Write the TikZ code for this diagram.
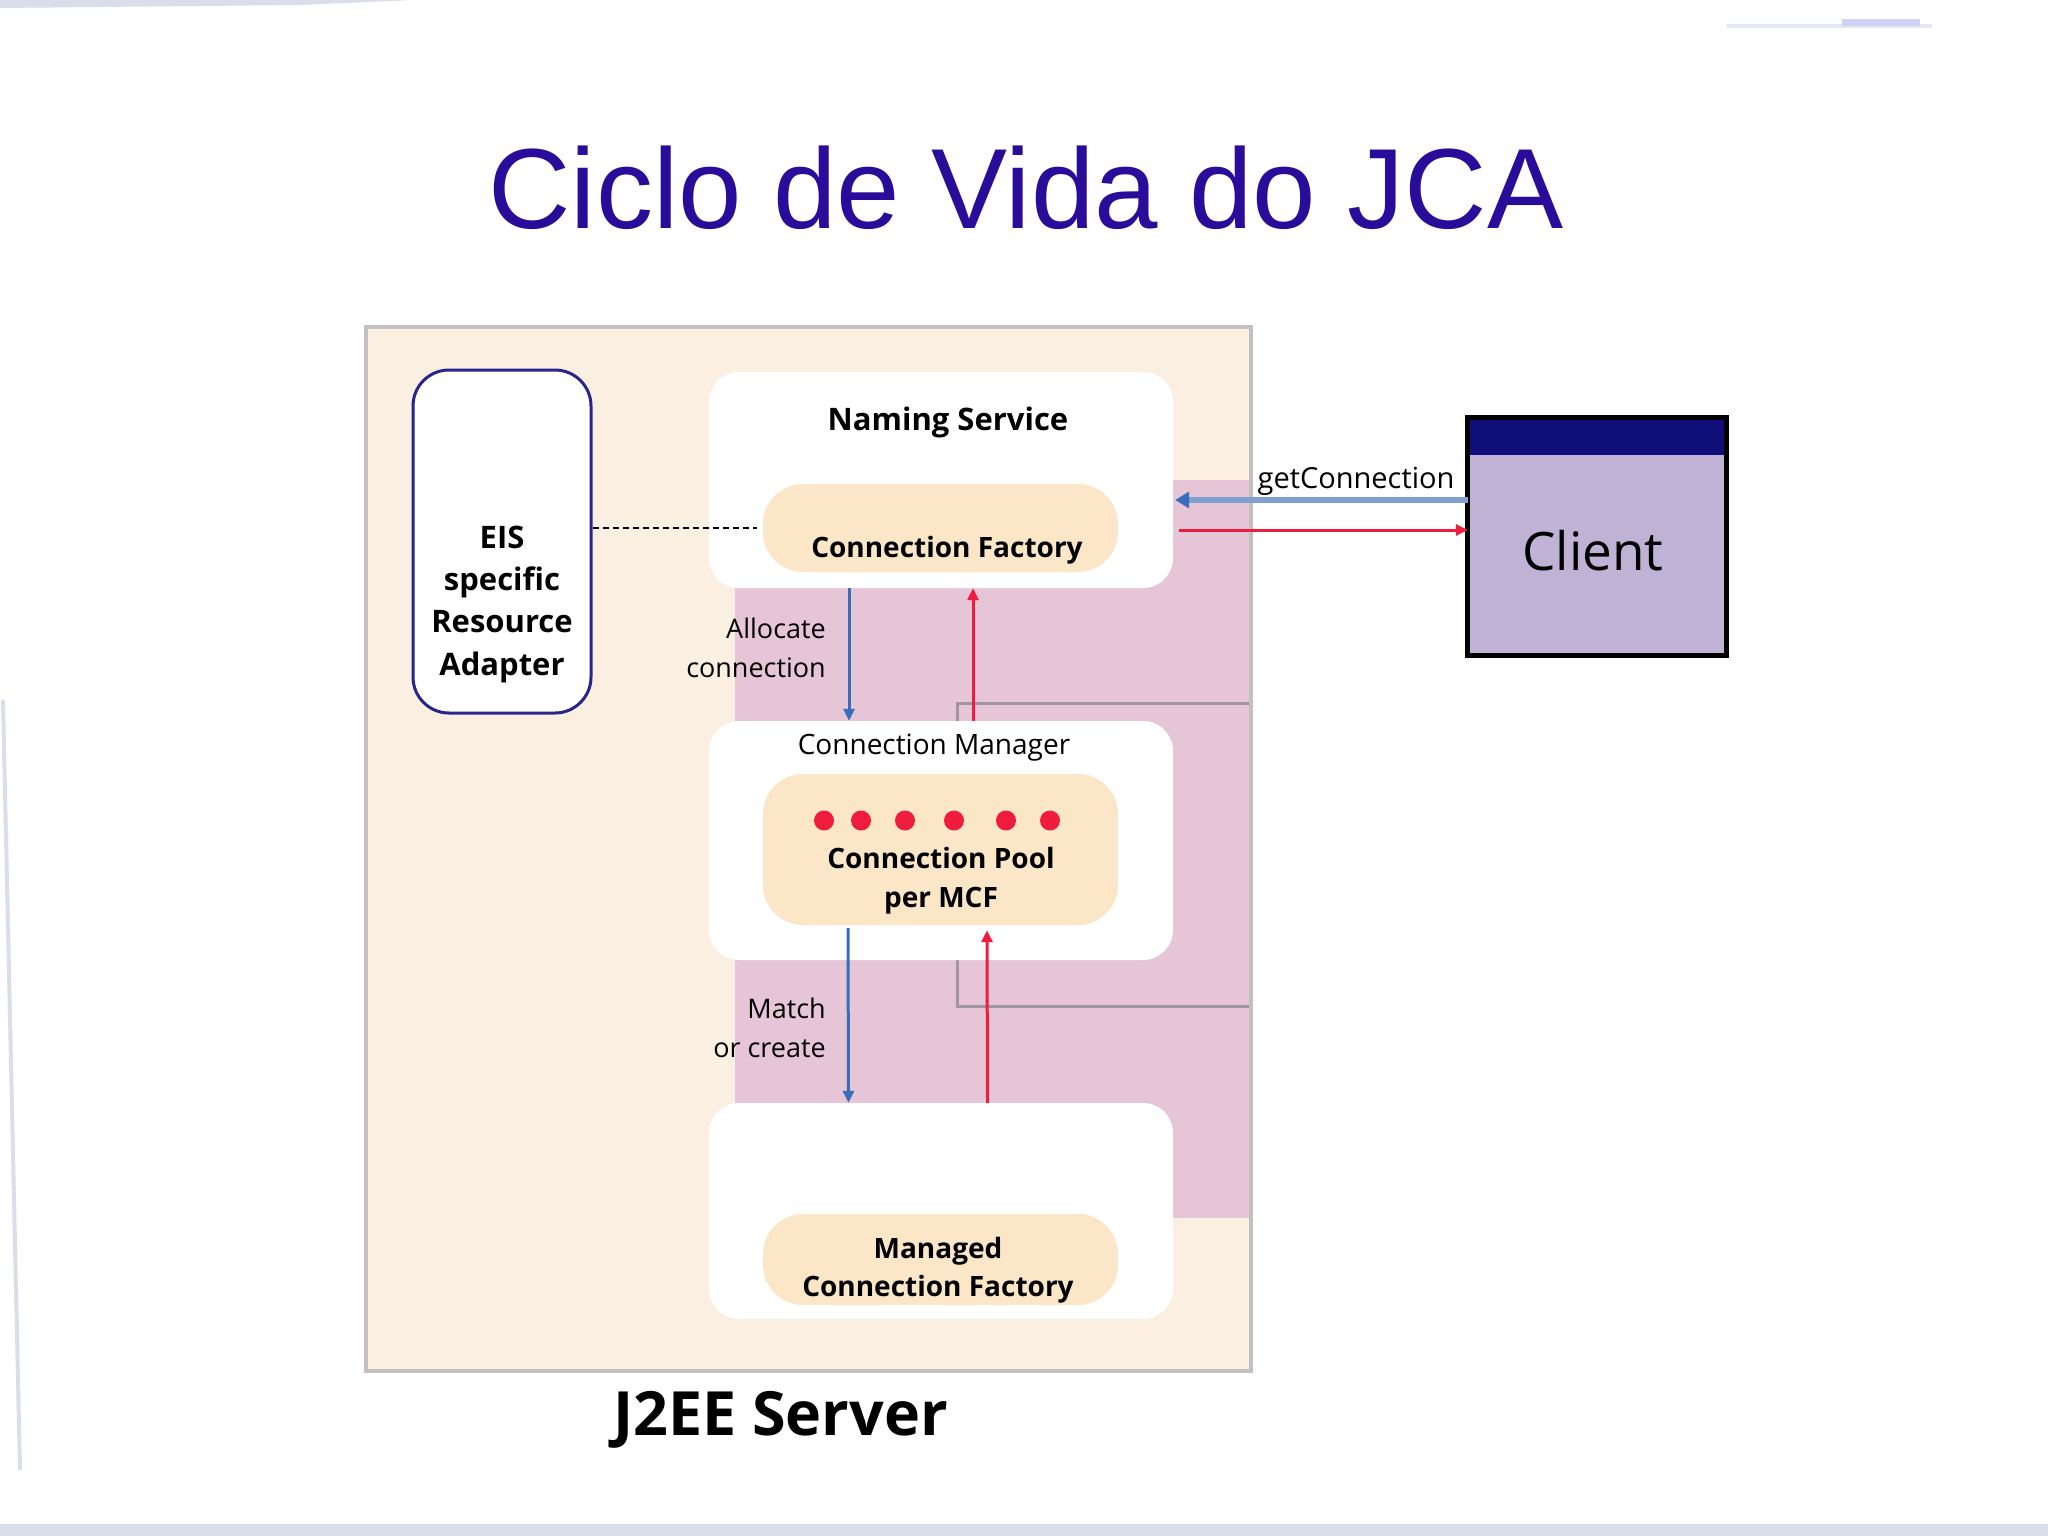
\documentclass[tikz,border=0pt]{standalone}
\usepackage{fontspec}
\setmainfont{Liberation Sans}
\newfontfamily\dfont{Open Sans}
\usetikzlibrary{arrows.meta}
\definecolor{titleblue}{RGB}{42,12,154}
\definecolor{peachbg}{RGB}{251,239,226}
\definecolor{pinkbg}{RGB}{230,198,214}
\definecolor{subpeach}{RGB}{251,231,200}
\definecolor{eisnavy}{RGB}{40,38,140}
\definecolor{arrblue}{RGB}{58,108,188}
\definecolor{lightblue}{RGB}{128,160,208}
\definecolor{arrred}{RGB}{240,28,62}
\definecolor{borgray}{RGB}{196,192,194}
\definecolor{rectgray}{RGB}{160,150,160}
\definecolor{lavender}{RGB}{191,178,212}
\definecolor{barnavy}{RGB}{16,14,120}
\definecolor{smudge}{RGB}{218,222,234}
\begin{document}
\begin{tikzpicture}[x=1pt,y=-1pt,
  whitebox/.style={fill=white,draw=none,rounded corners=30pt,inner sep=0pt},
  subbox/.style={fill=subpeach,draw=none,rounded corners=40pt,inner sep=0pt},
  btxt/.style={inner sep=0pt,anchor=base,font=\dfont\bfseries\fontsize{28}{34}\selectfont},
  ntxt/.style={inner sep=0pt,anchor=base,font=\dfont\fontsize{27}{39}\selectfont},
  bluearr/.style={draw=arrblue,line width=3pt,-{Triangle[length=12pt,width=11pt]}},
  redarr/.style={draw=arrred,line width=3pt,-{Triangle[length=12pt,width=11pt]}}]
\useasboundingbox (0,0) rectangle (2048,1536);
\fill[white] (0,0) rectangle (2048,1536);
% slide edge smudges
\fill[smudge] (0,0) -- (413,0) -- (300,5) -- (0,8) -- cycle;
\fill[smudge!70] (1727,24) -- (1932,24) -- (1932,28) -- (1727,28) -- cycle;
\fill[smudge!80!blue!60] (1842,19) rectangle (1920,26);
\fill[smudge] (0,1524) rectangle (2048,1536);
\draw[smudge,line width=4pt] (3,700) -- (20,1470);
% title
\node[inner sep=0pt,anchor=base,text=titleblue,font=\fontsize{114}{130}\selectfont] (title) at (1026,228) {Ciclo de Vida do JCA};
% server container
\node[fill=peachbg,draw=none,inner sep=0pt,minimum width=885pt,minimum height=1044pt] (server) at (808.5,849) {};
\fill[pinkbg] (735,480) rectangle (1251,1218);
\draw[rectgray,line width=3pt] (957,703) rectangle (1251,1006);
\draw[borgray,line width=4pt] (server.south west) rectangle (server.north east);
% EIS adapter
\node[fill=white,draw=eisnavy,line width=3pt,rounded corners=36pt,minimum width=178pt,minimum height=343pt] (eis) at (502,541.5) {};
\node[btxt,align=center,font=\dfont\bfseries\fontsize{31}{42.3}\selectfont] (eistxt) at (502,675) {EIS\\specific\\Resource\\Adapter};
% naming service
\node[whitebox,minimum width=464pt,minimum height=216pt] (naming) at (941,480) {};
\node[btxt,font=\dfont\bfseries\fontsize{31}{36}\selectfont] (namingtxt) at (948,430) {Naming Service};
\node[subbox,minimum width=355pt,minimum height=88pt] (cf) at (940.5,528) {};
\node[btxt] (cftxt) at (947,557) {Connection Factory};
% connection manager
\node[whitebox,minimum width=464pt,minimum height=239pt] (cm) at (941,840.5) {};
\node[ntxt,font=\dfont\fontsize{28}{34}\selectfont] (cmtxt) at (934,754) {Connection Manager};
\node[subbox,minimum width=355pt,minimum height=151pt] (pool) at (940.5,849.5) {};
\foreach \dx in {824,861,905,954,1006,1050} \fill[arrred] (\dx,820.5) circle (10pt);
\node[btxt,align=center,font=\dfont\bfseries\fontsize{28}{39}\selectfont] (pooltxt) at (941,907) {Connection Pool\\per MCF};
% managed connection factory
\node[whitebox,minimum width=464pt,minimum height=216pt] (managed) at (941,1211) {};
\node[subbox,minimum width=355pt,minimum height=91pt] (mcf) at (940.5,1259.5) {};
\node[btxt,align=center,font=\dfont\bfseries\fontsize{28}{38}\selectfont] (mcftxt) at (938,1296) {Managed\\Connection Factory};
% dashed link
\draw[black,line width=2.5pt,dash pattern=on 6pt off 4pt] (eis.east |- cf.west) -- ([xshift=-6pt]cf.west);
% vertical arrows
\draw[bluearr] ([xshift=-92pt]naming.south) -- ([xshift=-92pt]cm.north);
\draw[redarr] ([xshift=32pt]cm.north) -- ([xshift=32pt]naming.south);
\draw[bluearr] ([xshift=-92.5pt,yshift=-3pt]pool.south) -- ([xshift=-92.5pt]managed.north);
\draw[redarr] ([xshift=46.5pt]managed.north) -- ([xshift=46.5pt,yshift=-5pt]pool.south);
\node[ntxt,align=right,anchor=base east] (alloc) at (826,677) {Allocate\\connection};
\node[ntxt,align=right,anchor=base east] (match) at (826,1057) {Match\\or create};
% J2EE label
\node[inner sep=0pt,anchor=base,font=\dfont\bfseries\fontsize{61}{70}\selectfont] (j2ee) at (780.5,1435) {J2EE Server};
% client
\node[fill=lavender,draw=none,inner sep=0pt,minimum width=258pt,minimum height=237pt] (client) at (1597,536.5) {};
\fill[barnavy] (client.north west) rectangle ([yshift=-37pt]client.north east);
\draw[black,line width=5pt] (client.south west) rectangle (client.north east);
\node[inner sep=0pt,anchor=base,font=\dfont\fontsize{53}{60}\selectfont] (clienttxt) at (1593,570) {Client};
% client arrows
\draw[draw=lightblue,line width=6pt,-{Triangle[length=14pt,width=16pt,color=arrblue]}] ([yshift=36.5pt]client.west) -- ([yshift=-20pt,xshift=2pt]naming.east);
\node[inner sep=0pt,anchor=base,font=\dfont\fontsize{29}{33}\selectfont] (gettxt) at (1356,488) {getConnection};
\draw[redarr] ([yshift=-50pt,xshift=6pt]naming.east) -- ([yshift=6.5pt]client.west);
\end{tikzpicture}
\end{document}
